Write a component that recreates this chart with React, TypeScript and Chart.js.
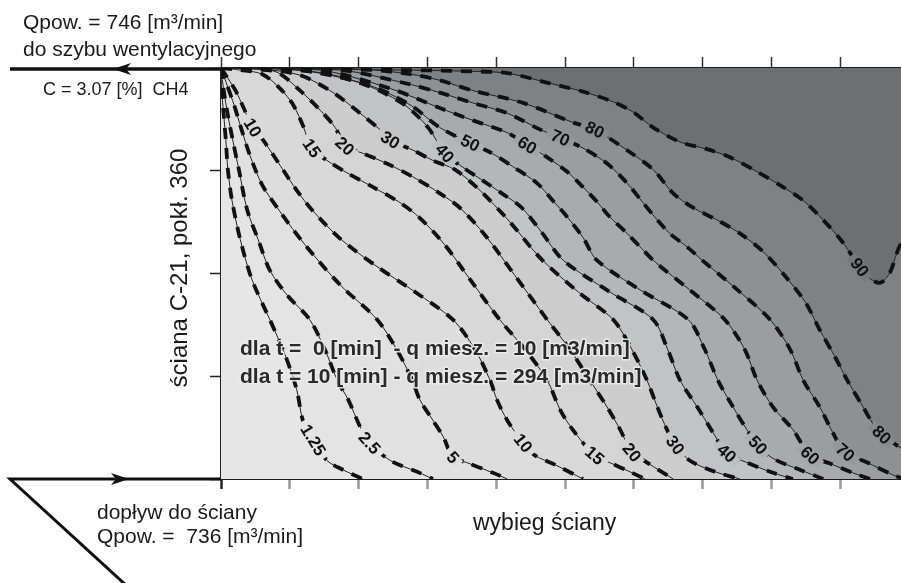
import React, { useEffect, useRef } from 'react';
import { Chart, registerables } from 'chart.js';

Chart.register(...registerables);

type P = [number, number];

// axis ranges (arbitrary units: x = face advance, y = face length)
const X_MIN = 0;
const X_MAX = 98.8;
const Y_MIN = 0;
const Y_MAX = 40;
const X_TICKS = [0, 10, 20, 30, 40, 50, 60, 70, 80, 90];
const Y_TICKS = [0, 10, 20, 30, 40];

// contour levels
const LEVELS = [1.25, 2.5, 5, 10, 15, 20, 30, 40, 50, 60, 70, 80, 90];
const LEVEL_TEXT = ['1.25', '2.5', '5', '10', '15', '20', '30', '40', '50', '60', '70', '80', '90'];

// contour lines
const C_1_25: P[] = [[0,40],[0.1,37.8],[0.4,35.4],[0.7,33.0],[1.0,30.1],[1.6,27.1],[2.8,23.3],[4.5,19.4],[7.1,15.5],[9.3,12.1],[11.0,8.7],[11.9,5.7],[13.4,3.8],[15.4,1.8],[17.7,0.9],[20.6,0]];
const C_2_5: P[] = [[0,40],[0.4,37.8],[1.0,35.4],[1.7,33.0],[2.6,30.1],[3.8,26.2],[5.4,23.3],[7.1,20.3],[9.6,17.9],[12.9,15.5],[15.1,12.6],[16.9,9.6],[18.5,7.7],[20.2,5.1],[21.6,3.5],[24.6,1.8],[28.5,0.7],[30.8,0]];
const C_5: P[] = [[0,40],[0.9,38.3],[1.9,36.4],[2.9,34.2],[4.2,31.5],[6.0,28.6],[8.6,26.0],[12.2,22.8],[17.3,18.9],[22.7,15.5],[25.7,12.4],[27.8,9.6],[28.9,7.7],[30.8,5.7],[32.3,4.1],[33.7,2.1],[35.7,1.6],[39.5,0.6],[41.6,0]];
const C_10: P[] = [[0,40],[1.0,39.0],[2.2,37.7],[3.3,36.1],[4.6,34.2],[6.1,33.0],[9.0,30.1],[11.0,28.1],[13.2,26.2],[17.3,23.4],[22.4,20.8],[28.2,18.2],[33.7,15.5],[36.9,12.6],[39.1,9.6],[40.1,7.7],[41.6,5.7],[43.9,3.5],[45.6,2.3],[48.5,1.4],[52.6,0]];
const C_15: P[] = [[0,40],[2.8,39.8],[6.0,39.4],[8.6,38.0],[10.5,36.4],[11.9,34.4],[13.2,32.2],[15.4,31.0],[18.3,29.8],[22.1,28.4],[26.0,26.9],[28.9,25.4],[32.5,22.8],[36.2,19.4],[40.5,15.5],[44.2,12.6],[47.4,9.6],[49.3,6.7],[51.1,4.8],[54.3,2.3],[56.8,1.5],[59.1,0.8],[61.6,0]];
const C_20: P[] = [[0,40],[4.2,39.9],[8.1,39.6],[11.5,37.8],[14.4,35.9],[16.6,34.2],[18.0,32.4],[20.6,31.7],[24.1,30.7],[27.9,29.4],[31.8,27.8],[34.7,26.4],[38.4,23.7],[42.7,19.8],[47.4,15.5],[50.7,12.6],[53.6,9.6],[56.1,7.0],[58.0,4.8],[59.7,2.6],[61.9,1.6],[65.7,0]];
const C_30: P[] = [[0,40],[5.7,39.9],[11.5,39.3],[16.3,37.6],[20.2,35.6],[23.1,34.0],[24.6,33.0],[27.9,32.0],[30.8,31.0],[34.0,30.1],[37.6,28.1],[42.0,25.0],[46.4,21.5],[51.9,18.2],[57.0,15.5],[59.7,12.6],[61.9,9.6],[63.4,7.0],[64.8,4.8],[66.0,3.3],[68.1,1.8],[71.8,0.7],[75.4,0]];
const C_40: P[] = [[0,40],[8.6,39.9],[15.8,39.4],[21.6,38.2],[26.7,36.4],[30.1,34.2],[32.5,31.7],[35.0,30.4],[37.9,29.1],[40.8,27.8],[43.7,26.4],[46.6,24.0],[49.7,21.3],[56.5,18.2],[62.8,15.5],[64.9,12.6],[66.7,9.6],[69.2,7.0],[71.5,4.5],[73.5,2.5],[76.4,1.6],[80.2,0.6],[83.1,0]];
const C_50: P[] = [[0,40],[11.5,39.8],[21.6,38.3],[27.5,36.4],[31.8,34.2],[36.2,32.7],[39.1,31.8],[42.4,30.4],[45.9,28.8],[48.2,27.1],[50.3,25.5],[52.6,23.5],[54.6,21.3],[60.9,18.4],[67.9,15.5],[70.3,12.6],[72.2,9.6],[74.4,7.0],[76.4,4.8],[78.0,3.3],[80.2,2.0],[84.1,0.9],[87.5,0]];
const C_60: P[] = [[0,40],[14.4,39.8],[24.6,38.0],[31.8,36.1],[36.6,34.9],[41.6,33.7],[44.5,32.5],[47.4,31.3],[50.3,29.9],[52.6,28.4],[54.6,27.0],[56.5,25.5],[59.0,23.9],[61.3,22.3],[63.1,21.1],[68.1,18.4],[73.2,15.5],[76.1,12.6],[77.9,9.6],[80.2,7.0],[83.1,4.8],[85.6,2.3],[88.5,1.5],[91.8,0.6],[94.3,0]];
const C_70: P[] = [[0,40],[17.3,39.8],[27.5,38.4],[31.8,37.6],[36.6,36.6],[41.6,35.6],[46.4,34.0],[49.3,33.2],[52.6,32.2],[56.1,30.7],[59.0,28.8],[61.3,26.9],[63.4,25.2],[65.2,23.9],[67.7,22.6],[69.9,21.3],[74.7,18.6],[79.8,15.5],[82.7,12.6],[84.6,9.6],[87.0,7.0],[88.9,4.5],[90.7,2.6],[93.9,1.6],[97.6,0.4],[98.8,0.1]];
const C_80: P[] = [[0,40],[20.2,39.9],[27.5,39.4],[31.8,38.8],[36.6,37.8],[43.9,36.6],[51.1,34.7],[54.3,34.0],[59.0,32.0],[62.8,30.1],[65.7,27.8],[68.6,26.4],[72.1,25.2],[75.4,23.9],[78.8,22.1],[81.9,19.8],[84.9,17.2],[87.0,14.5],[89.2,11.9],[91.0,9.6],[93.3,7.0],[94.7,5.4],[96.0,4.3],[97.5,3.6],[98.8,3.0]];
const C_90: P[] = [[0,40],[26.0,39.8],[34.7,39.7],[41.6,39.5],[47.8,38.5],[52.6,37.7],[57.0,36.7],[59.9,35.7],[62.8,34.2],[66.7,32.8],[70.6,32.1],[74.0,31.3],[77.9,29.9],[81.2,28.6],[84.6,27.1],[87.5,25.2],[89.9,23.4],[91.4,22.0],[92.8,20.6],[94.3,19.5],[95.8,19.1],[97.2,20.1],[98.2,22.0],[98.8,23.0]];

const CONTOURS: P[][] = [C_1_25, C_2_5, C_5, C_10, C_15, C_20, C_30, C_40, C_50, C_60, C_70, C_80, C_90];

// fill shades: below first level, then above each level
const BAND_COLORS = ['#e6e6e6', '#e4e4e4', '#e1e1e1', '#dddddd', '#d9d9d9', '#d4d4d4', '#cdcdce', '#c2c3c4', '#b5b6b8', '#a8aaac', '#9b9da0', '#8e9194', '#7f8285', '#6d7073'];

// contour label placement
const UPPER_LABEL_LEVELS = [10, 15, 20, 30, 40, 50, 60, 70, 80, 90];
const UPPER_LABEL_POS: P[] = [[4.6,34.2],[13.2,32.2],[18.0,32.4],[24.6,33.0],[32.5,31.7],[36.2,32.7],[44.5,32.5],[49.3,33.2],[54.3,34.0],[92.8,20.6]];
const LOWER_LABEL_LEVELS = [1.25, 2.5, 5, 10, 15, 20, 30, 40, 50, 60, 70, 80];
const LOWER_LABEL_POS: P[] = [[13.4,3.8],[21.6,3.5],[33.7,2.1],[43.9,3.5],[54.3,2.3],[59.7,2.6],[66.0,3.3],[73.5,2.5],[78.0,3.3],[85.6,2.3],[90.7,2.6],[96.0,4.3]];

const FONT = '"Liberation Sans", Arial, Helvetica, sans-serif';

function hexToRgb(h: string): number[] {
  const v = h.replace('#', '');
  return [0, 2, 4].map((i) => parseInt(v.substr(i, 2), 16));
}
function mix(a: string, b: string): string {
  const A = hexToRgb(a);
  const B = hexToRgb(b);
  return `rgb(${Math.round((A[0] + B[0]) / 2)},${Math.round((A[1] + B[1]) / 2)},${Math.round((A[2] + B[2]) / 2)})`;
}

const toXY = (pts: P[]) => pts.map(([x, y]) => ({ x, y }));

const basePlugin = {
  id: 'baseBand',
  beforeDatasetsDraw(chart: any) {
    const { ctx, chartArea: a } = chart;
    ctx.save();
    ctx.fillStyle = BAND_COLORS[0];
    ctx.fillRect(a.left, a.top, a.right - a.left, a.bottom - a.top);
    ctx.restore();
  },
};

function drawContourLabel(chart: any, level: number, pos: P) {
  const idx = LEVELS.indexOf(level);
  if (idx < 0) return;
  const xs = chart.scales.x;
  const ys = chart.scales.y;
  const ctx = chart.ctx;
  const pts = CONTOURS[idx].map(([x, y]) => [xs.getPixelForValue(x), ys.getPixelForValue(y)]);
  const px = xs.getPixelForValue(pos[0]);
  const py = ys.getPixelForValue(pos[1]);
  let k = 0;
  let best = Infinity;
  pts.forEach((p, i) => {
    const d = (p[0] - px) ** 2 + (p[1] - py) ** 2;
    if (d < best) { best = d; k = i; }
  });
  const a = pts[Math.max(0, k - 1)];
  const b = pts[Math.min(pts.length - 1, k + 1)];
  let ang = Math.atan2(b[1] - a[1], b[0] - a[0]);
  if (ang > Math.PI / 2) ang -= Math.PI;
  if (ang < -Math.PI / 2) ang += Math.PI;
  const text = LEVEL_TEXT[idx];
  const halo = mix(BAND_COLORS[idx], BAND_COLORS[idx + 1]);
  ctx.save();
  ctx.beginPath();
  ctx.rect(chart.chartArea.left, chart.chartArea.top, chart.chartArea.right - chart.chartArea.left, chart.chartArea.bottom - chart.chartArea.top);
  ctx.clip();
  ctx.translate(px, py);
  ctx.rotate(ang);
  ctx.font = `bold 17px ${FONT}`;
  ctx.textAlign = 'center';
  ctx.textBaseline = 'middle';
  const w = ctx.measureText(text).width;
  ctx.fillStyle = halo;
  ctx.fillRect(-w / 2 - 5, -5, w + 10, 10);
  ctx.lineJoin = 'round';
  ctx.lineWidth = 3;
  ctx.strokeStyle = halo;
  ctx.strokeText(text, 0, 1);
  ctx.fillStyle = '#111';
  ctx.fillText(text, 0, 1);
  ctx.restore();
}

const labelPlugin = {
  id: 'contourLabels',
  afterDatasetsDraw(chart: any) {
    UPPER_LABEL_LEVELS.forEach((lv, i) => drawContourLabel(chart, lv, UPPER_LABEL_POS[i]));
    LOWER_LABEL_LEVELS.forEach((lv, i) => drawContourLabel(chart, lv, LOWER_LABEL_POS[i]));
    // in-plot description
    const ctx = chart.ctx;
    ctx.save();
    ctx.font = `bold 21px ${FONT}`;
    ctx.textAlign = 'left';
    ctx.textBaseline = 'alphabetic';
    ctx.lineJoin = 'round';
    ctx.lineWidth = 3;
    ctx.strokeStyle = 'rgba(236,236,236,0.9)';
    const l1 = 'dla t =  0 [min]  - q miesz. = 10 [m3/min]';
    const l2 = 'dla t = 10 [min] - q miesz. = 294 [m3/min]';
    ctx.strokeText(l1, 240, 355);
    ctx.strokeText(l2, 240, 383);
    ctx.fillStyle = '#2a2a2a';
    ctx.fillText(l1, 240, 355);
    ctx.fillText(l2, 240, 383);
    ctx.restore();
  },
};

function arrowHead(ctx: CanvasRenderingContext2D, tipX: number, y: number, dir: number) {
  ctx.beginPath();
  ctx.moveTo(tipX, y);
  ctx.lineTo(tipX - dir * 18, y - 6);
  ctx.lineTo(tipX - dir * 13, y);
  ctx.lineTo(tipX - dir * 18, y + 6);
  ctx.closePath();
  ctx.fill();
}

const annotationPlugin = {
  id: 'annotations',
  afterDraw(chart: any) {
    const ctx: CanvasRenderingContext2D = chart.ctx;
    const a = chart.chartArea;
    ctx.save();
    ctx.strokeStyle = '#111';
    ctx.fillStyle = '#111';
    ctx.lineCap = 'butt';
    // outlet arrow (top)
    ctx.lineWidth = 3.5;
    ctx.beginPath();
    ctx.moveTo(10, a.top + 1);
    ctx.lineTo(a.left, a.top + 1);
    ctx.stroke();
    arrowHead(ctx, 113, a.top + 1, -1);
    // inlet arrow (bottom)
    ctx.lineWidth = 3;
    ctx.beginPath();
    ctx.moveTo(a.left, a.bottom);
    ctx.lineTo(10, a.bottom);
    ctx.lineTo(128, 587);
    ctx.stroke();
    arrowHead(ctx, 129, a.bottom, 1);

    ctx.fillStyle = '#1a1a1a';
    ctx.textAlign = 'left';
    ctx.textBaseline = 'alphabetic';
    ctx.font = `21px ${FONT}`;
    ctx.fillText('Qpow. = 746 [m³/min]', 23, 29);
    ctx.fillText('do szybu wentylacyjnego', 23, 56);
    ctx.font = `18px ${FONT}`;
    ctx.fillText('C = 3.07 [%]  CH4', 43, 95);
    ctx.font = `21px ${FONT}`;
    ctx.fillText('dopływ do ściany', 97, 519);
    ctx.fillText('Qpow. =  736 [m³/min]', 97, 543);
    ctx.font = `23px ${FONT}`;
    ctx.fillText('wybieg ściany', 473, 530);
    ctx.save();
    ctx.translate(187, 268);
    ctx.rotate(-Math.PI / 2);
    ctx.textAlign = 'center';
    ctx.font = `24px ${FONT}`;
    ctx.fillText('ściana C-21, pokł. 360', 0, 0);
    ctx.restore();
    ctx.restore();
  },
};

export default function App() {
  const ref = useRef<HTMLCanvasElement>(null);
  useEffect(() => {
    const fills = CONTOURS.map((c, i) => ({
      data: toXY([...c, [X_MAX, Y_MIN] as P, [X_MAX, Y_MAX] as P]),
      fill: 'shape',
      backgroundColor: BAND_COLORS[i + 1],
      borderColor: 'rgba(0,0,0,0)',
      borderWidth: 0,
      pointRadius: 0,
      tension: 0,
      order: 100 - i,
    }));
    const thin = CONTOURS.map((c) => ({
      data: toXY(c),
      fill: false,
      borderColor: '#222',
      borderWidth: 1,
      pointRadius: 0,
      tension: 0.3,
      order: 2,
    }));
    const dashed = CONTOURS.map((c) => ({
      data: toXY(c),
      fill: false,
      borderColor: '#111',
      borderWidth: 3.8,
      borderDash: [11, 9],
      pointRadius: 0,
      tension: 0.3,
      order: 1,
    }));
    const setTicks = (vals: number[]) => (s: any) => { s.ticks = vals.map((v) => ({ value: v })); };
    const chart = new Chart(ref.current as HTMLCanvasElement, {
      type: 'line',
      data: { datasets: [...fills, ...thin, ...dashed] as any },
      options: {
        animation: false,
        responsive: false,
        devicePixelRatio: 1,
        events: [],
        layout: { padding: { left: 210, top: 57, right: 0, bottom: 94 } },
        plugins: { legend: { display: false }, tooltip: { enabled: false }, title: { display: false } },
        scales: {
          x: {
            type: 'linear', position: 'bottom', min: X_MIN, max: X_MAX,
            afterBuildTicks: setTicks(X_TICKS),
            ticks: { display: false },
            grid: {
              drawOnChartArea: false, drawTicks: true, tickLength: 10, tickWidth: 2.5,
              tickColor: (c: any) => (c.tick && c.tick.value === 0 ? '#222' : '#9a9a9a'),
            },
            border: { display: true, color: '#1a1a1a', width: 2 },
          },
          xTop: {
            type: 'linear', position: 'top', min: X_MIN, max: X_MAX,
            afterBuildTicks: setTicks(X_TICKS),
            ticks: { display: false },
            grid: { drawOnChartArea: false, drawTicks: true, tickLength: 11, tickWidth: 1.5, tickColor: '#333' },
            border: { display: true, color: '#1a1a1a', width: 2 },
          },
          y: {
            type: 'linear', position: 'left', min: Y_MIN, max: Y_MAX,
            afterBuildTicks: setTicks(Y_TICKS),
            ticks: { display: false },
            grid: { drawOnChartArea: false, drawTicks: true, tickLength: 11, tickWidth: 1.5, tickColor: '#222' },
            border: { display: true, color: '#222', width: 1.5 },
          },
        },
      } as any,
      plugins: [basePlugin, labelPlugin, annotationPlugin],
    });
    return () => chart.destroy();
  }, []);
  return (
    <div style={{ position: 'absolute', left: 0, top: 0, width: 901, height: 583 }}>
      <canvas ref={ref} width={901} height={583} style={{ display: 'block' }} />
    </div>
  );
}
